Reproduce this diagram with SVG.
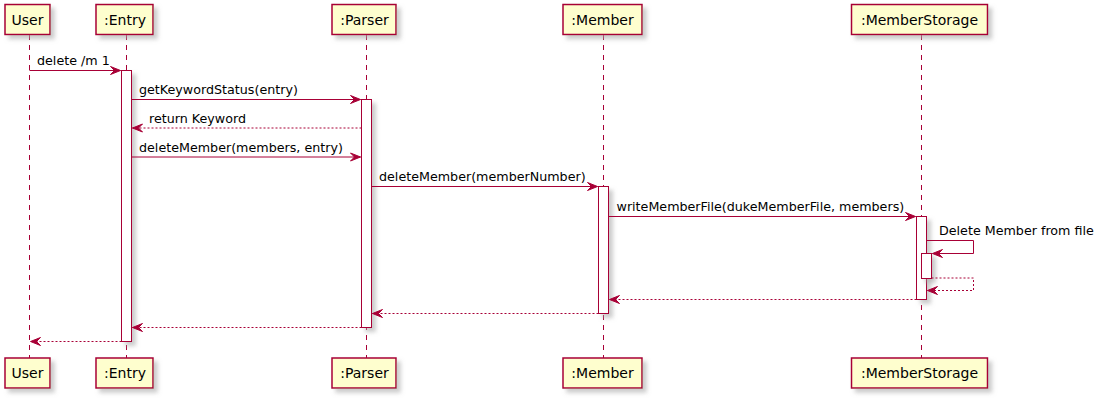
<svg xmlns="http://www.w3.org/2000/svg" width="1099" height="400" viewBox="0 0 1099 400">
<defs>
<filter id="shadow" x="-1" y="-1" width="300%" height="300%">
<feGaussianBlur in="SourceAlpha" stdDeviation="2" result="b"/>
<feColorMatrix in="b" type="matrix" values="0 0 0 0 0.4  0 0 0 0 0.4  0 0 0 0 0.4  0 0 0 0.6 0" result="c"/>
<feOffset in="c" dx="4" dy="4" result="o"/>
<feMerge><feMergeNode in="o"/><feMergeNode in="SourceGraphic"/></feMerge>
</filter>
<marker id="arr" markerUnits="userSpaceOnUse" markerWidth="12" markerHeight="10" refX="10" refY="4" orient="auto" overflow="visible">
<polygon points="0,0 10,4 0,8 4,4" fill="#A80036" stroke="#A80036" stroke-width="1"/>
</marker>
</defs>
<style>
.box{fill:#FEFECE;stroke:#A80036;stroke-width:1.5;filter:url(#shadow)}
.act{fill:#FFFFFF;stroke:#A80036;stroke-width:1;filter:url(#shadow)}
.life{stroke:#A80036;stroke-width:1;stroke-dasharray:5,5;fill:none}
.msg{stroke:#A80036;stroke-width:1;fill:none;marker-end:url(#arr)}
.ret{stroke:#A80036;stroke-width:1;fill:none;stroke-dasharray:2,2;marker-end:url(#arr)}
.pt{font-family:"DejaVu Sans",sans-serif;font-size:14px;fill:#000000;text-anchor:middle}
.mt{font-family:"DejaVu Sans",sans-serif;font-size:12.7px;fill:#000000}
</style>
<g id="lifelines">
<line class="life" x1="29.5" y1="35" x2="29.5" y2="358"/>
<line class="life" x1="126.5" y1="35" x2="126.5" y2="358"/>
<line class="life" x1="366.5" y1="35" x2="366.5" y2="358"/>
<line class="life" x1="603.5" y1="35" x2="603.5" y2="358"/>
<line class="life" x1="921.5" y1="35" x2="921.5" y2="358"/>
</g>
<g id="User">
<rect class="box" x="5" y="4.5" width="45" height="30"/>
<text class="pt" x="27.5" y="24.5">User</text>
<rect class="box" x="5" y="358" width="45" height="30"/>
<text class="pt" x="27.5" y="378">User</text>
</g>
<g id="Entry">
<rect class="box" x="96" y="4.5" width="57" height="30"/>
<text class="pt" x="125" y="24.5">:Entry</text>
<rect class="box" x="96" y="358" width="57" height="30"/>
<text class="pt" x="125" y="378">:Entry</text>
</g>
<g id="Parser">
<rect class="box" x="332" y="4.5" width="64" height="30"/>
<text class="pt" x="364.5" y="24.5">:Parser</text>
<rect class="box" x="332" y="358" width="64" height="30"/>
<text class="pt" x="364.5" y="378">:Parser</text>
</g>
<g id="Member">
<rect class="box" x="563" y="4.5" width="79" height="30"/>
<text class="pt" x="602.5" y="24.5">:Member</text>
<rect class="box" x="563" y="358" width="79" height="30"/>
<text class="pt" x="602.5" y="378">:Member</text>
</g>
<g id="MemberStorage">
<rect class="box" x="851.5" y="4.5" width="136" height="30"/>
<text class="pt" x="919.5" y="24.5">:MemberStorage</text>
<rect class="box" x="851.5" y="358" width="136" height="30"/>
<text class="pt" x="919.5" y="378">:MemberStorage</text>
</g>
<g id="activations">
<rect class="act" x="121.5" y="70.5" width="10" height="271"/>
<rect class="act" x="361.5" y="99.5" width="10" height="228"/>
<rect class="act" x="598.5" y="186.5" width="10" height="127"/>
<rect class="act" x="916.5" y="216.5" width="10" height="83"/>
<rect class="act" x="921.5" y="253.5" width="10" height="25"/>
</g>
<g id="connectors">
<line class="msg" x1="29.5" y1="70.5" x2="120.5" y2="70.5"/>
<text class="mt" x="37" y="64.5">delete /m 1</text>
<line class="msg" x1="131.5" y1="99.5" x2="360.5" y2="99.5"/>
<text class="mt" x="139" y="93.5">getKeywordStatus(entry)</text>
<line class="ret" x1="361.5" y1="128" x2="132.5" y2="128"/>
<text class="mt" x="149" y="122.5">return Keyword</text>
<line class="msg" x1="131.5" y1="157" x2="360.5" y2="157"/>
<text class="mt" x="139" y="151.5">deleteMember(members, entry)</text>
<line class="msg" x1="371.5" y1="186.5" x2="597.5" y2="186.5"/>
<text class="mt" x="379" y="180.5">deleteMember(memberNumber)</text>
<line class="msg" x1="608.5" y1="216.5" x2="915.5" y2="216.5"/>
<text class="mt" x="616.5" y="210.5">writeMemberFile(dukeMemberFile, members)</text>
<polyline class="msg" points="926.5,240.5 973.5,240.5 973.5,253.5 932.5,253.5"/>
<text class="mt" x="939" y="234.5">Delete Member from file</text>
<polyline class="ret" points="931.5,278 973.5,278 973.5,290.5 927.5,290.5"/>
<line class="ret" x1="916.5" y1="299.5" x2="609.5" y2="299.5"/>
<line class="ret" x1="598.5" y1="313.5" x2="372.5" y2="313.5"/>
<line class="ret" x1="361.5" y1="327.5" x2="132.5" y2="327.5"/>
<line class="ret" x1="121.5" y1="341.5" x2="30.5" y2="341.5"/>
</g>
</svg>
